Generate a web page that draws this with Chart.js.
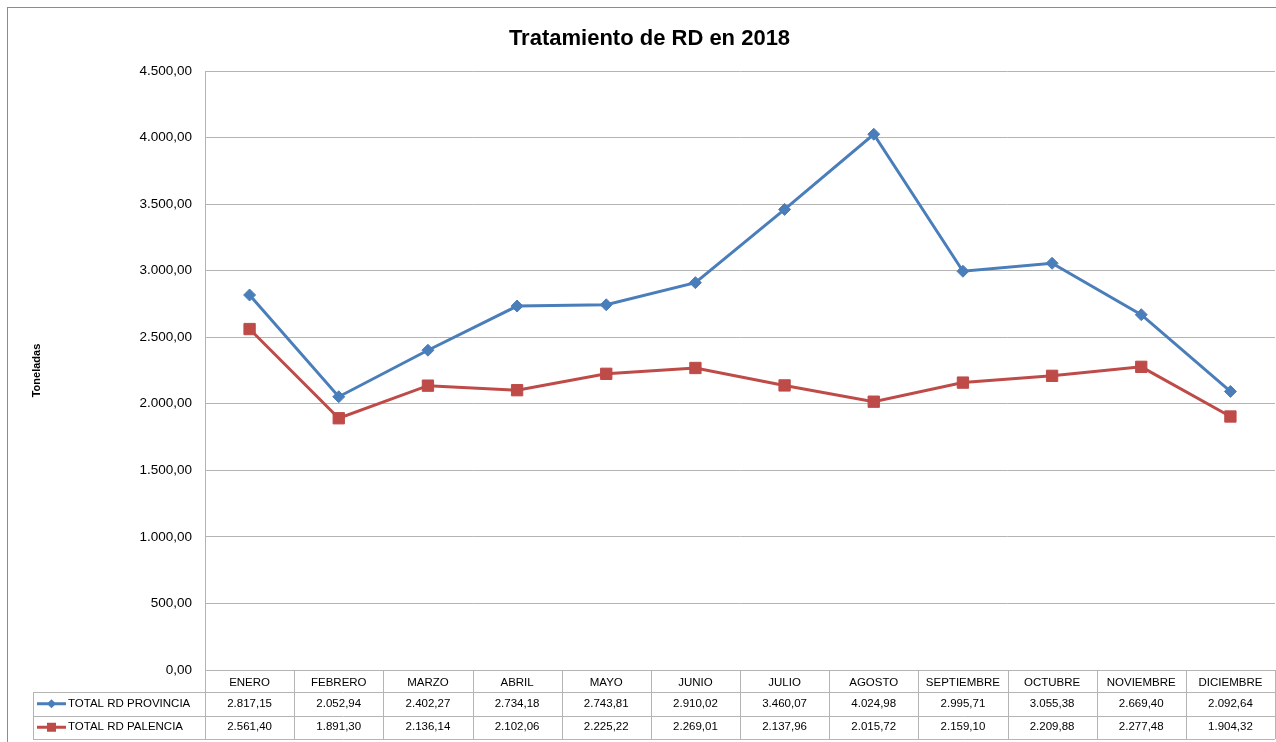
<!DOCTYPE html>
<html>
<head>
<meta charset="utf-8">
<script src="https://cdn.jsdelivr.net/npm/chart.js@4"></script>
<style>
  html, body { margin: 0; padding: 0; background: #fff; overflow: hidden; }
  #wrap { width: 1276px; height: 742px; position: relative; }
  canvas { display: block; }
</style>
</head>
<body>
<div id="wrap"><canvas id="chart"></canvas></div>
<script>
const months = ['ENERO', 'FEBRERO', 'MARZO', 'ABRIL', 'MAYO', 'JUNIO', 'JULIO',
  'AGOSTO', 'SEPTIEMBRE', 'OCTUBRE', 'NOVIEMBRE', 'DICIEMBRE'];
const provincia = [2817.15, 2052.94, 2402.27, 2734.18, 2743.81, 2910.02, 3460.07,
  4024.98, 2995.71, 3055.38, 2669.40, 2092.64];
const palencia = [2561.40, 1891.30, 2136.14, 2102.06, 2225.22, 2269.01, 2137.96,
  2015.72, 2159.10, 2209.88, 2277.48, 1904.32];
const seriesNames = ['TOTAL RD PROVINCIA', 'TOTAL RD PALENCIA'];

const blue = '#4A7EBB';
const red = '#BE4B48';
const gridColor = '#b4b4b4';
const FONT = '"Liberation Sans", Arial, sans-serif';

// 2817.15 -> "2.817,15"
function fmt(v) {
  const [i, d] = v.toFixed(2).split('.');
  return i.replace(/\B(?=(\d{3})+(?!\d))/g, '.') + ',' + d;
}

// frame + data table under the x axis
const tablePlugin = {
  id: 'dataTable',
  afterDraw(chart) {
    const ctx = chart.ctx;
    const x = chart.scales.x;
    const area = chart.chartArea;
    const n = months.length;
    const colW = (x.right - x.left) / n;
    const rowTop = [area.bottom + 22, area.bottom + 45.5];
    const rowH = 23.5;
    const tableLeft = 33;
    const bottom = rowTop[1] + rowH;

    ctx.save();
    // outer frame
    ctx.strokeStyle = '#8c8c8c';
    ctx.lineWidth = 1;
    ctx.strokeRect(7.5, 7.5, 1400, 900);

    ctx.strokeStyle = gridColor;
    ctx.beginPath();
    // vertical lines of the month columns
    for (let i = 0; i <= n; i++) {
      const px = Math.round(x.left + i * colW) + 0.5;
      ctx.moveTo(px, area.bottom);
      ctx.lineTo(px, bottom);
    }
    ctx.moveTo(tableLeft + 0.5, rowTop[0]);
    ctx.lineTo(tableLeft + 0.5, bottom);
    // horizontal lines
    [rowTop[0], rowTop[1], bottom].forEach((y) => {
      const py = Math.round(y) + 0.5;
      ctx.moveTo(tableLeft, py);
      ctx.lineTo(x.right, py);
    });
    ctx.stroke();

    const data = [provincia, palencia];
    const colors = [blue, red];
    ctx.font = '11.5px ' + FONT;
    ctx.fillStyle = '#000';
    ctx.textBaseline = 'middle';
    data.forEach((vals, r) => {
      const cy = rowTop[r] + rowH / 2;
      // legend key
      ctx.strokeStyle = colors[r];
      ctx.fillStyle = colors[r];
      ctx.lineWidth = 3;
      ctx.beginPath();
      ctx.moveTo(37, cy);
      ctx.lineTo(66, cy);
      ctx.stroke();
      ctx.beginPath();
      if (r === 0) {
        ctx.moveTo(51.5, cy - 4.5);
        ctx.lineTo(56, cy);
        ctx.lineTo(51.5, cy + 4.5);
        ctx.lineTo(47, cy);
        ctx.closePath();
      } else {
        ctx.rect(47, cy - 4.5, 9, 9);
      }
      ctx.fill();
      ctx.fillStyle = '#000';
      ctx.textAlign = 'left';
      ctx.fillText(seriesNames[r], 68, cy);
      ctx.textAlign = 'center';
      vals.forEach((v, i) => {
        ctx.fillText(fmt(v), x.getPixelForTick(i), cy);
      });
    });
    ctx.restore();
  }
};

new Chart(document.getElementById('chart'), {
  type: 'line',
  data: {
    labels: months,
    datasets: [
      {
        label: seriesNames[0],
        data: provincia,
        borderColor: blue,
        backgroundColor: blue,
        borderWidth: 3,
        pointStyle: 'rectRot',
        pointRadius: 6,
        pointBorderWidth: 1,
        tension: 0,
      },
      {
        label: seriesNames[1],
        data: palencia,
        borderColor: red,
        backgroundColor: red,
        borderWidth: 3,
        pointStyle: 'rect',
        pointRadius: 8,
        pointBorderWidth: 1,
        tension: 0,
      },
    ],
  },
  options: {
    responsive: true,
    maintainAspectRatio: false,
    animation: false,
    layout: { autoPadding: false, padding: { left: 24, right: 1, top: 10, bottom: 0 } },
    plugins: {
      legend: { display: false },
      tooltip: { enabled: false },
      title: {
        display: true,
        text: 'Tratamiento de RD en 2018',
        color: '#000',
        font: { family: FONT, size: 22, weight: 'bold' },
        padding: { top: 16, bottom: 18.6 },
      },
    },
    scales: {
      x: {
        offset: true,
        grid: { display: false, drawTicks: false },
        border: { display: true, color: gridColor },
        ticks: {
          color: '#000',
          font: { family: FONT, size: 11.5 },
          padding: 6,
          maxRotation: 0,
          autoSkip: false,
        },
        afterFit: (s) => {
          s.height = 72;
          s.paddingLeft = 0;
          s.paddingRight = 0;
        },
      },
      y: {
        min: 0,
        max: 4500,
        grid: { color: gridColor, drawTicks: false },
        border: { display: true, color: gridColor },
        ticks: {
          stepSize: 500,
          color: '#000',
          padding: 13,
          font: { family: FONT, size: 13.5 },
          callback: (v) => fmt(v),
        },
        title: {
          display: true,
          text: 'Toneladas',
          color: '#000',
          font: { family: FONT, size: 11, weight: 'bold' },
          padding: { top: 6, bottom: 0 },
        },
        afterFit: (s) => { s.width = 181; },
      },
    },
  },
  plugins: [tablePlugin],
});
</script>
</body>
</html>
